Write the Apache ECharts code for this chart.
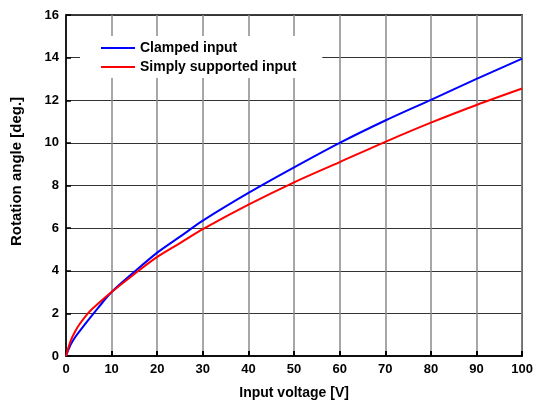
<!DOCTYPE html>
<html>
<head>
<meta charset="utf-8">
<script src="https://cdn.jsdelivr.net/npm/echarts@6/dist/echarts.min.js"></script>
<style>
  html, body { margin: 0; padding: 0; background: #fff; }
  #chart { width: 536px; height: 405px; }
</style>
</head>
<body>
<div id="chart"></div>
<script>
// volts -> degrees
const voltage = [0, 1, 2, 3, 5, 7, 10, 15, 20, 25, 30, 40, 50, 60, 70, 80, 90, 100]
const clamped = [0, 0.52, 0.88, 1.17, 1.72, 2.25, 3.0, 3.95, 4.85, 5.6, 6.35, 7.65, 8.85, 10.0, 11.05, 12.02, 13.0, 13.95]
const simply = [0, 0.7, 1.15, 1.5, 2.05, 2.45, 3.0, 3.85, 4.65, 5.3, 5.95, 7.1, 8.15, 9.1, 10.05, 10.95, 11.78, 12.55]
const seriesNames = ['Clamped input', 'Simply supported input']

const font = 'Arial, "Liberation Sans", sans-serif'
const chart = echarts.init(document.getElementById('chart'))

const pairs = (ys) => voltage.map((v, i) => [v, ys[i]])

chart.setOption({
  backgroundColor: '#fff',
  animation: false,
  grid: {
    left: 66, right: 10, top: 15, bottom: 49,
    show: true, borderColor: '#000', borderWidth: 1.5, backgroundColor: 'transparent'
  },
  legend: {
    orient: 'vertical',
    left: 80,
    top: 36,
    padding: [5, 26, 4, 21],
    itemGap: 5,
    itemWidth: 34,
    itemHeight: 2,
    icon: 'rect',
    backgroundColor: '#fff',
    textStyle: { fontFamily: font, fontSize: 14, fontWeight: 'bold', color: '#000' },
    data: seriesNames
  },
  xAxis: {
    type: 'value',
    min: 0, max: 100, interval: 10,
    name: 'Input voltage [V]',
    nameLocation: 'middle',
    nameGap: 30,
    nameTextStyle: { fontFamily: font, fontSize: 14, fontWeight: 'bold', color: '#000' },
    axisLine: { lineStyle: { color: '#000', width: 1.5 } },
    axisTick: { inside: true, length: 5, lineStyle: { color: '#000', width: 2 } },
    axisLabel: { margin: 7, fontFamily: font, fontSize: 13, fontWeight: 'bold', color: '#000' },
    splitLine: { lineStyle: { color: '#8a8a8a', width: 1.5 } }
  },
  yAxis: {
    type: 'value',
    min: 0, max: 16, interval: 2,
    name: 'Rotation angle [deg.]',
    nameLocation: 'middle',
    nameGap: 42,
    nameTextStyle: { fontFamily: font, fontSize: 15, fontWeight: 'bold', color: '#000', padding: [0, 0, 0, 28] },
    axisLine: { lineStyle: { color: '#000', width: 1.5 } },
    axisTick: { inside: true, length: 5, lineStyle: { color: '#000', width: 1.5 } },
    axisLabel: { margin: 7, fontFamily: font, fontSize: 13, fontWeight: 'bold', color: '#000' },
    splitLine: { lineStyle: { color: '#333', width: 1 } }
  },
  series: [
    {
      name: seriesNames[0], type: 'line', smooth: 0.3, showSymbol: false,
      data: pairs(clamped), color: '#0000ff', lineStyle: { width: 2 }, z: 3
    },
    {
      name: seriesNames[1], type: 'line', smooth: 0.3, showSymbol: false,
      data: pairs(simply), color: '#ff0000', lineStyle: { width: 2 }, z: 4
    }
  ]
})
</script>
</body>
</html>
